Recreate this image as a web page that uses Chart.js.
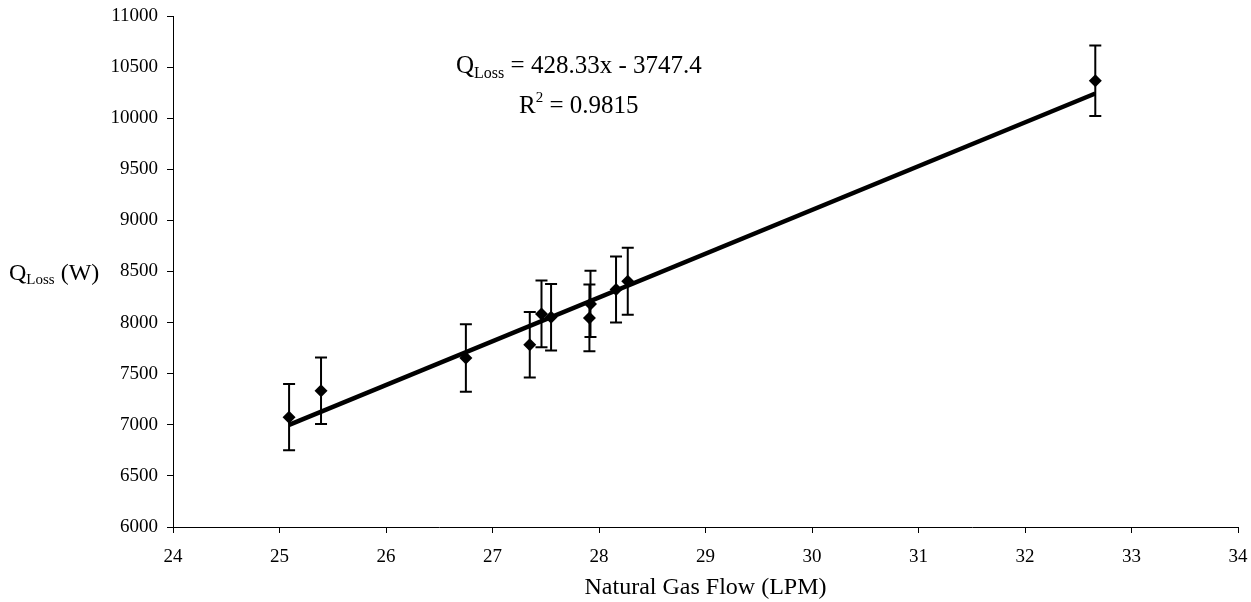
<!DOCTYPE html>
<html>
<head>
<meta charset="utf-8">
<script src="https://cdn.jsdelivr.net/npm/chart.js@4/dist/chart.umd.min.js"></script>
<style>
  html, body { margin: 0; padding: 0; background: #fff; }
  #wrap { width: 1251px; height: 602px; position: relative; }
</style>
</head>
<body>
<div id="wrap"><canvas id="chart"></canvas></div>
<script>
// natural gas flow (LPM) and heat loss (W)
const gasFlow = [25.09, 25.39, 26.75, 27.35, 27.46, 27.55, 27.91, 27.92, 28.16, 28.27, 32.66];
const qLoss   = [7075, 7333, 7654, 7784, 8085, 8052, 8046, 8183, 8324, 8405, 10366];
const qError  = [325, 325, 330, 320, 327, 325, 327, 325, 323, 327, 345];

// linear fit shown on the chart
const trendX = [25.09, 32.66];
const trendY = [7000, 10242];

const xTicks = [24, 25, 26, 27, 28, 29, 30, 31, 32, 33, 34];
const yTicks = [6000, 6500, 7000, 7500, 8000, 8500, 9000, 9500, 10000, 10500, 11000];

const serif = "'Liberation Serif', 'Times New Roman', serif";

const errorBars = {
  id: 'errorBars',
  afterDatasetsDraw(chart) {
    const { ctx, scales: { x, y } } = chart;
    ctx.save();
    ctx.strokeStyle = '#000';
    ctx.lineWidth = 2;
    gasFlow.forEach((gx, i) => {
      const px = x.getPixelForValue(gx);
      const top = y.getPixelForValue(qLoss[i] + qError[i]);
      const bot = y.getPixelForValue(qLoss[i] - qError[i]);
      ctx.beginPath();
      ctx.moveTo(px, top); ctx.lineTo(px, bot);
      ctx.moveTo(px - 6, top); ctx.lineTo(px + 6, top);
      ctx.moveTo(px - 6, bot); ctx.lineTo(px + 6, bot);
      ctx.stroke();
    });
    ctx.restore();
  }
};

// subscripted labels: y axis title and the fit equation
function drawSub(ctx, x, y, parts) {
  let cx = x;
  parts.forEach(p => {
    ctx.font = p.size + 'px ' + serif;
    ctx.fillText(p.t, cx, y + (p.dy || 0));
    cx += ctx.measureText(p.t).width;
  });
}

const textLabels = {
  id: 'textLabels',
  afterDraw(chart) {
    const ctx = chart.ctx;
    ctx.save();
    ctx.fillStyle = '#000';
    ctx.textBaseline = 'alphabetic';
    ctx.textAlign = 'left';
    drawSub(ctx, 9, 280, [
      { t: 'Q', size: 24 },
      { t: 'Loss', size: 15, dy: 4 },
      { t: ' (W)', size: 24 }
    ]);
    drawSub(ctx, 456, 73, [
      { t: 'Q', size: 25 },
      { t: 'Loss', size: 16, dy: 5 },
      { t: ' = 428.33x - 3747.4', size: 25 }
    ]);
    drawSub(ctx, 519, 113, [
      { t: 'R', size: 25 },
      { t: '2', size: 15, dy: -11 },
      { t: ' = 0.9815', size: 25 }
    ]);
    ctx.restore();
  }
};

new Chart(document.getElementById('chart'), {
  type: 'scatter',
  data: {
    datasets: [
      {
        label: 'Q loss',
        data: gasFlow.map((g, i) => ({ x: g, y: qLoss[i] })),
        pointStyle: 'rectRot',
        pointRadius: 6.5,
        backgroundColor: '#000',
        borderColor: '#000',
        borderWidth: 0,
        order: 0
      },
      {
        label: 'Linear fit',
        type: 'line',
        data: trendX.map((t, i) => ({ x: t, y: trendY[i] })),
        borderColor: '#000',
        borderWidth: 4.5,
        pointRadius: 0,
        fill: false,
        order: 1
      }
    ]
  },
  options: {
    responsive: true,
    maintainAspectRatio: false,
    animation: false,
    layout: { padding: { left: 0, right: 13, top: 16, bottom: 0 } },
    plugins: {
      legend: { display: false },
      tooltip: { enabled: false }
    },
    scales: {
      x: {
        type: 'linear',
        min: 24,
        max: 34,
        afterBuildTicks: s => { s.ticks = xTicks.map(v => ({ value: v })); },
        afterFit: s => { s.height = 75; s.paddingRight = 0; s.paddingLeft = 0; },
        grid: { drawOnChartArea: false, drawTicks: true, tickLength: 6, color: '#000' },
        border: { color: '#000', width: 1 },
        ticks: { color: '#000', padding: 13, font: { family: serif, size: 19 }, callback: v => String(v) },
        title: {
          display: true,
          text: 'Natural Gas Flow (LPM)',
          color: '#000',
          font: { family: serif, size: 24 },
          padding: { top: 0, bottom: 0 }
        }
      },
      y: {
        type: 'linear',
        min: 6000,
        max: 11000,
        afterBuildTicks: s => { s.ticks = yTicks.map(v => ({ value: v })); },
        afterFit: s => { s.width = 173; s.paddingTop = 0; s.paddingBottom = 0; },
        grid: { drawOnChartArea: false, drawTicks: true, tickLength: 6, color: '#000' },
        border: { color: '#000', width: 1 },
        ticks: { color: '#000', padding: 9, font: { family: serif, size: 19 }, callback: v => String(v) }
      }
    }
  },
  plugins: [errorBars, textLabels]
});
</script>
</body>
</html>
